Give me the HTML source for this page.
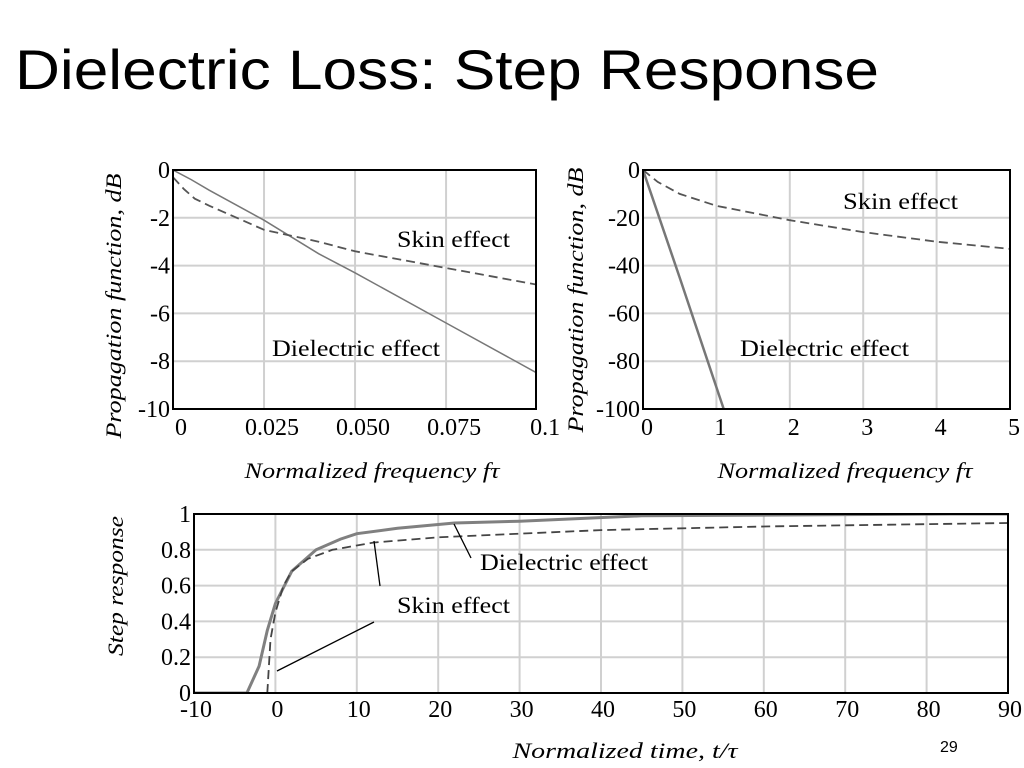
<!DOCTYPE html>
<html><head><meta charset="utf-8">
<style>
html,body{margin:0;padding:0;background:#fff;}
svg{display:block;font-family:"Liberation Serif",serif;}
</style></head>
<body>
<svg id="s" width="1024" height="768" viewBox="0 0 1024 768">
<text x="15" y="89" font-family="Liberation Sans, sans-serif" font-size="56" textLength="864" lengthAdjust="spacingAndGlyphs">Dielectric Loss: Step Response</text>
<text x="940" y="752" font-family="Liberation Sans, sans-serif" font-size="16">29</text>
</svg>
<script>
// Chart 1: 0..0.1 frequency
const c1X = [0, 0.005, 0.01, 0.025, 0.04, 0.05, 0.075, 0.1];
const c1Diel = [0, -0.4, -0.85, -2.1, -3.5, -4.3, -6.4, -8.5];
const c1SkinX = [0, 0.003, 0.006, 0.01, 0.025, 0.04, 0.05, 0.075, 0.1];
const c1Skin = [-0.3, -0.8, -1.2, -1.5, -2.5, -3.0, -3.4, -4.1, -4.8];
const c1XTicks = ["0","0.025","0.050","0.075","0.1"];
const c1YTicks = ["0","-2","-4","-6","-8","-10"];
// Chart 2: 0..5 frequency
const c2DielX = [0, 0.5, 1.1];
const c2Diel = [0, -45, -100];
const c2SkinX = [0, 0.2, 0.5, 1, 1.5, 2, 3, 4, 5];
const c2Skin = [0, -5, -10, -15, -18, -21, -26, -30, -33];
const c2XTicks = ["0","1","2","3","4","5"];
const c2YTicks = ["0","-20","-40","-60","-80","-100"];
// Chart 3: step response
const c3DielX = [-10, -3.5, -2, -1, 0, 2, 5, 8, 10, 15, 22, 30, 45, 83, 90];
const c3Diel = [0, 0, 0.15, 0.35, 0.5, 0.68, 0.8, 0.86, 0.89, 0.92, 0.95, 0.96, 0.99, 1.0, 1.0];
const c3SkinX = [-1, -0.6, 0, 1, 2, 4, 7, 12, 20, 30, 40, 60, 90];
const c3Skin = [0, 0.3, 0.45, 0.6, 0.68, 0.75, 0.8, 0.84, 0.87, 0.89, 0.91, 0.93, 0.95];
const c3XTicks = ["-10","0","10","20","30","40","50","60","70","80","90"];
const c3YTicks = ["0","0.2","0.4","0.6","0.8","1"];

const svg = document.getElementById('s');
const NS = 'http://www.w3.org/2000/svg';
function mk(tag, attrs, parent){ const e=document.createElementNS(NS,tag); for(const k in attrs) e.setAttribute(k,attrs[k]); (parent||svg).appendChild(e); return e; }
function lin(d0,d1,r0,r1){ return v=>r0+(v-d0)*(r1-r0)/(d1-d0); }

function chart(opt){
  const g = mk('g',{});
  
  
  const X = lin(opt.xd[0],opt.xd[1],opt.L,opt.R), Y = lin(opt.yd[0],opt.yd[1],opt.B,opt.T);
  const cid = opt.name+'-clip';
  const cp = mk('clipPath',{id:cid},g); mk('rect',{x:opt.L,y:opt.T,width:opt.R-opt.L,height:opt.B-opt.T},cp);
  opt.xt.forEach((t,i)=>{ const v=opt.xv[i]; const x=X(v);
    if(i>0 && i<opt.xt.length-1){ const l=mk('line',{x1:x,x2:x,y1:opt.T,y2:opt.B,stroke:'#d0d0d0','stroke-width':2},g);   }
    const tx=mk('text',{x:x+(opt.xoff||0),y:opt.B+(opt.xty||26),'font-size':24,'text-anchor':'middle'},g); tx.textContent=t;
     
  });
  opt.yt.forEach((t,i)=>{ const v=opt.yv[i]; const y=Y(v);
    if(i>0 && i<opt.yt.length-1){ const l=mk('line',{x1:opt.L,x2:opt.R,y1:y,y2:y,stroke:'#d0d0d0','stroke-width':2},g);   }
    const tx=mk('text',{x:opt.L-3,y:y+8,'font-size':24,'text-anchor':'end'},g); tx.textContent=t;
     
  });
  opt.series.forEach(s=>{
    const d=s.x.map((v,i)=>(i?'L':'M')+X(v).toFixed(1)+','+Y(s.y[i]).toFixed(1)).join(' ');
    const p=mk('path',{d:d,fill:'none',stroke:s.c,'stroke-width':s.w,'stroke-dasharray':s.dash||'','clip-path':'url(#'+cid+')'},g);
     
  });
  const fr=mk('rect',{x:opt.L,y:opt.T,width:opt.R-opt.L,height:opt.B-opt.T,fill:'none',stroke:'#000','stroke-width':2},g);
   
  opt.labels.forEach(lb=>{
    const t=mk('text',{x:lb.x,y:lb.y,'font-size':23,textLength:lb.w,lengthAdjust:'spacingAndGlyphs'},g); t.textContent=lb.t;
     
  });
  const xt=mk('text',{x:opt.xtitle[1],y:opt.xtitle[2],'font-size':22,'font-style':'italic','text-anchor':'middle',textLength:opt.xtitle[3],lengthAdjust:'spacingAndGlyphs'},g); xt.textContent=opt.xtitle[0];
   
  const yt=mk('text',{x:0,y:0,'font-size':22,'font-style':'italic','text-anchor':'middle',textLength:opt.ytitle[3],lengthAdjust:'spacingAndGlyphs',transform:'translate('+opt.ytitle[1]+','+opt.ytitle[2]+') rotate(-90)'},g); yt.textContent=opt.ytitle[0];
   
  return {X,Y,g};
}

chart({name:'chart-low-frequency',L:173,R:536,T:170,B:409,xd:[0,0.0997],yd:[-10,0],
  xt:c1XTicks,xv:[0,0.025,0.05,0.075,0.1],yt:c1YTicks,yv:[0,-2,-4,-6,-8,-10],xoff:8,
  series:[{name:'dielectric-line',x:c1X,y:c1Diel,c:'#777',w:1.5},{name:'skin-line',x:c1SkinX,y:c1Skin,c:'#555',w:1.8,dash:'9,5'}],
  labels:[{t:'Skin effect',x:397,y:247,w:113,n:'skin-label'},{t:'Dielectric effect',x:272,y:356,w:168,n:'dielectric-label'}],
  xtitle:['Normalized frequency fτ',372,478,255],ytitle:['Propagation function, dB',121,306,265]});
chart({name:'chart-high-frequency',L:643,R:1010,T:170,B:409,xd:[0,5],yd:[-100,0],
  xt:c2XTicks,xv:[0,1,2,3,4,5],yt:c2YTicks,yv:[0,-20,-40,-60,-80,-100],xoff:4,
  series:[{name:'dielectric-line',x:c2DielX,y:c2Diel,c:'#777',w:2.5},{name:'skin-line',x:c2SkinX,y:c2Skin,c:'#555',w:1.8,dash:'9,5'}],
  labels:[{t:'Skin effect',x:843,y:209,w:115,n:'skin-label'},{t:'Dielectric effect',x:740,y:356,w:169,n:'dielectric-label'}],
  xtitle:['Normalized frequency fτ',845,478,255],ytitle:['Propagation function, dB',583,300,265]});
const c3=chart({name:'chart-step-response',L:194,R:1008,T:514,B:693,xd:[-10,90],yd:[0,1],
  xt:c3XTicks,xv:[-10,0,10,20,30,40,50,60,70,80,90],yt:c3YTicks,yv:[0,0.2,0.4,0.6,0.8,1],xoff:2,xty:24,
  series:[{name:'dielectric-line',x:c3DielX,y:c3Diel,c:'#808080',w:3},{name:'skin-line',x:c3SkinX,y:c3Skin,c:'#444',w:1.8,dash:'9,5'}],
  labels:[{t:'Dielectric effect',x:480,y:570,w:168,n:'dielectric-label'},{t:'Skin effect',x:397,y:613,w:113,n:'skin-label'}],
  xtitle:['Normalized time, t/τ',625,758,225],ytitle:['Step response',123,586,140]});
[[454,524,471,558],[374,541,380,586],[277,671,374,622]].forEach(a=>{
  const l=mk('line',{x1:a[0],y1:a[1],x2:a[2],y2:a[3],stroke:'#000','stroke-width':1.3},c3.g);
   
});
</script>
</body></html>
